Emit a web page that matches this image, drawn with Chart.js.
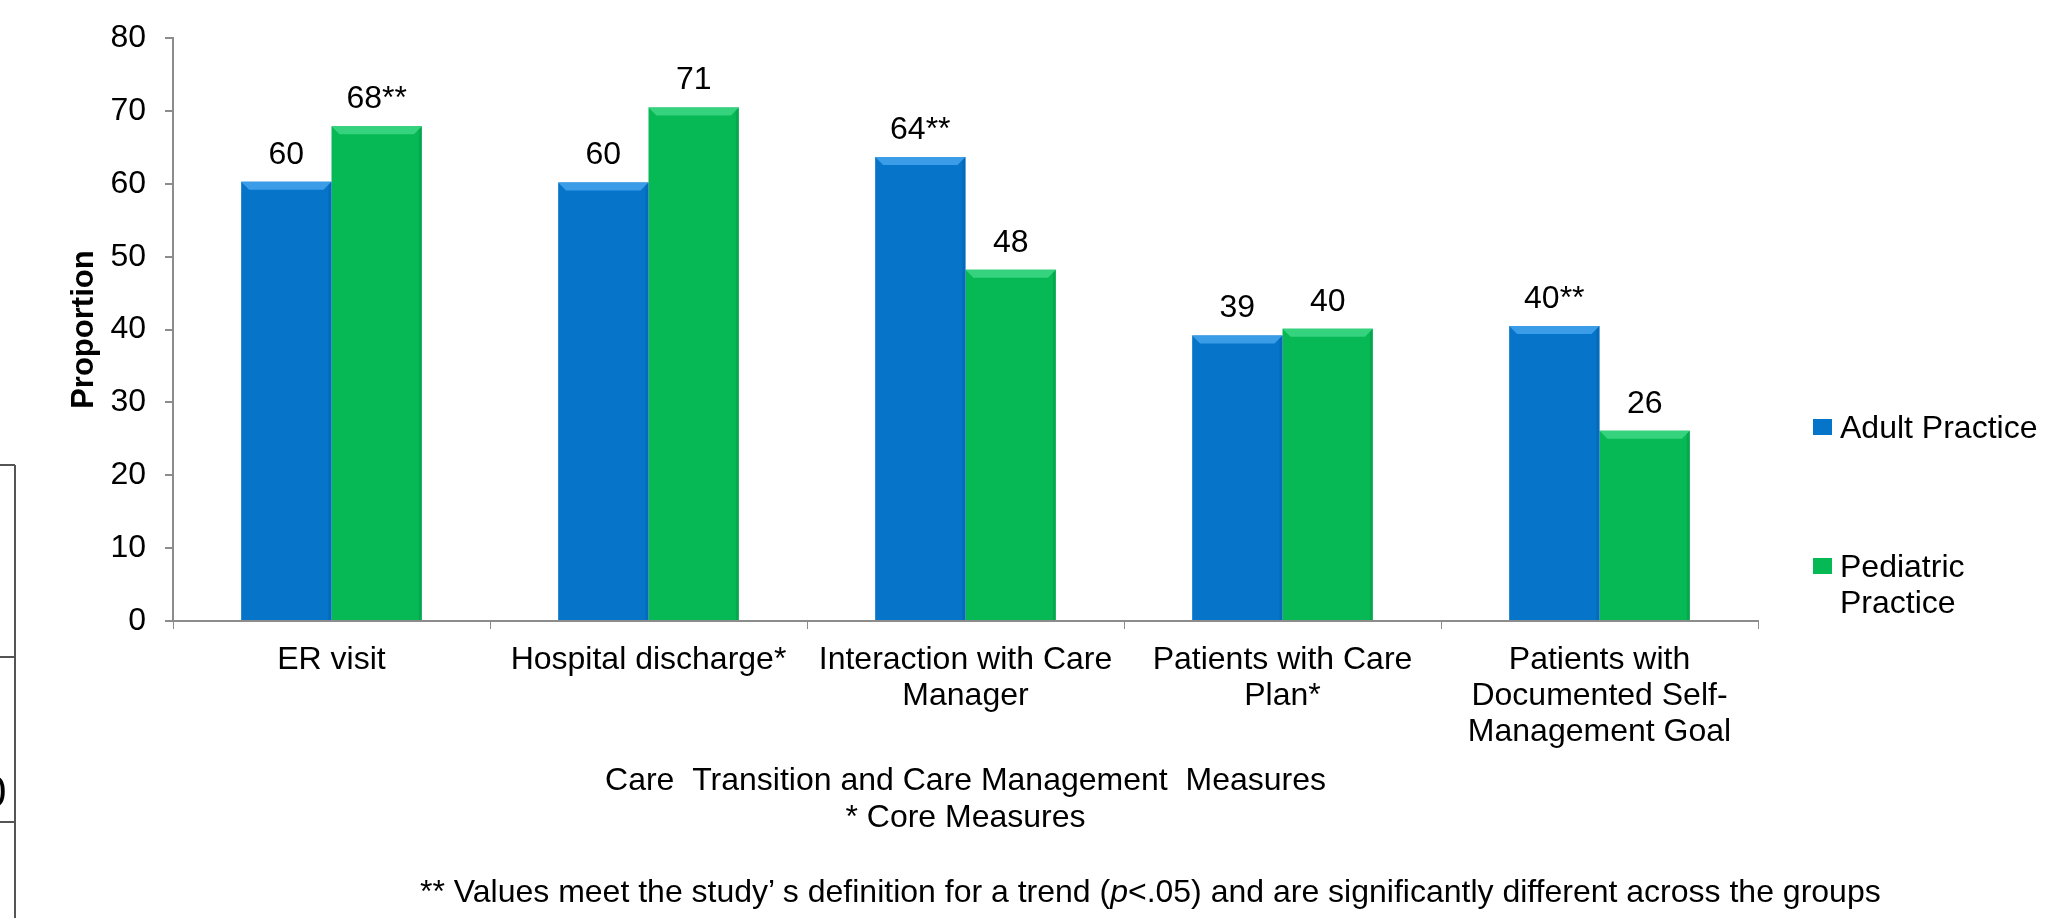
<!DOCTYPE html>
<html>
<head>
<meta charset="utf-8">
<script src="https://cdn.jsdelivr.net/npm/chart.js@4.4.1/dist/chart.umd.min.js"></script>
<style>
  html, body { margin: 0; padding: 0; background: #fff; }
  body { width: 2068px; height: 918px; position: relative; overflow: hidden;
         font-family: "Liberation Sans", Arial, sans-serif; color: #000; }
  #wrap { position: absolute; left: 0; top: 0; width: 2068px; height: 918px; }
  #legend { position: absolute; left: 1812px; top: 409px; width: 250px; font-size: 32px; line-height: 36px; }
  #legend .item { position: relative; padding-left: 28px; width: 210px; margin-bottom: 103px; }
  #legend .box { position: absolute; left: 1px; top: 10px; width: 19px; height: 16px; }
  #note { position: absolute; left: 420px; top: 873px; font-size: 32px; line-height: 37px; white-space: nowrap; }
  .edge { position: absolute; background: #555; }
</style>
</head>
<body>
<div id="wrap"><canvas id="chart"></canvas></div>
<div id="legend"></div>
<div id="note">** Values meet the study’ s definition for a trend (<i>p</i>&lt;.05) and are significantly different across the groups</div>

<!-- remains of the slide table cut off on the left -->
<div class="edge" style="left:14px; top:465px; width:2px; height:453px;"></div>
<div class="edge" style="left:0; top:464px; width:15px; height:2px;"></div>
<div class="edge" style="left:0; top:656px; width:15px; height:2px;"></div>
<div class="edge" style="left:0; top:821px; width:15px; height:2px;"></div>
<div style="position:absolute; left:0; top:768px; width:5px; height:50px; overflow:hidden;">
  <span style="position:absolute; left:-18px; top:0; font-size:44px; line-height:48px;">0</span>
</div>

<script>
// categories and values
const categories = [
  "ER visit",
  "Hospital discharge*",
  ["Interaction with Care", "Manager"],
  ["Patients with Care", "Plan*"],
  ["Patients with", "Documented Self-", "Management Goal"]
];
const adultValues = [60.3, 60.2, 63.7, 39.2, 40.5];
const pediatricValues = [67.9, 70.5, 48.2, 40.1, 26.1];
const adultLabels = ["60", "60", "64**", "39", "40**"];
const pediatricLabels = ["68**", "71", "48", "40", "26"];
const yTicks = [0, 10, 20, 30, 40, 50, 60, 70, 80];

const seriesNames = ["Adult Practice", "Pediatric Practice"];
const blue = "#0675c9", blueLight = "#3b9ce8", blueDark = "#04559a";
const green = "#07b955", greenLight = "#36d37e", greenDark = "#05893f";
const FONT = "'Liberation Sans', Arial, sans-serif";
const axisGray = "#8c8c8c";

// html legend
const legend = document.getElementById("legend");
[[seriesNames[0], blue], [seriesNames[1], green]].forEach(([name, col]) => {
  legend.insertAdjacentHTML("beforeend",
    `<div class="item"><span class="box" style="background:${col}"></span>${name}</div>`);
});

// bevel on top of bars + value labels
const barExtras = {
  id: "barExtras",
  afterDatasetsDraw(chart) {
    const ctx = chart.ctx;
    const lights = [blueLight, greenLight];
    const darks = [blueDark, greenDark];
    const texts = [adultLabels, pediatricLabels];
    chart.data.datasets.forEach((ds, di) => {
      chart.getDatasetMeta(di).data.forEach((bar, i) => {
        const l = bar.x - bar.width / 2, r = bar.x + bar.width / 2, t = bar.y, b = bar.base;
        const bv = 8;
        ctx.save();
        ctx.fillStyle = lights[di];
        ctx.beginPath();
        ctx.moveTo(l, t); ctx.lineTo(r, t); ctx.lineTo(r - bv, t + bv); ctx.lineTo(l + bv, t + bv);
        ctx.closePath(); ctx.fill();
        ctx.fillStyle = darks[di];
        ctx.globalAlpha = 0.35;
        ctx.beginPath();
        ctx.moveTo(r, t); ctx.lineTo(r, b); ctx.lineTo(r - 3, b); ctx.lineTo(r - 3, t + 3);
        ctx.closePath(); ctx.fill();
        ctx.restore();

        ctx.save();
        ctx.fillStyle = "#000";
        ctx.font = "32px " + FONT;
        ctx.textAlign = "center";
        ctx.textBaseline = "alphabetic";
        ctx.fillText(texts[di][i], bar.x, t - 18);
        ctx.restore();
      });
    });
  }
};

new Chart(document.getElementById("chart"), {
  type: "bar",
  data: {
    labels: categories,
    datasets: [
      { label: seriesNames[0], data: adultValues, backgroundColor: blue, borderWidth: 0 },
      { label: seriesNames[1], data: pediatricValues, backgroundColor: green, borderWidth: 0 }
    ]
  },
  options: {
    responsive: true,
    maintainAspectRatio: false,
    animation: false,
    layout: { padding: { left: 66, right: 310, top: 37, bottom: 81.5 } },
    datasets: { bar: { categoryPercentage: 0.57, barPercentage: 1.0 } },
    plugins: {
      legend: { display: false },
      tooltip: { enabled: false }
    },
    scales: {
      x: {
        grid: { offset: true, drawOnChartArea: false, drawTicks: true, tickLength: 8, color: axisGray },
        border: { display: true, color: axisGray, width: 2 },
        ticks: { color: "#000", font: { family: FONT, size: 32, lineHeight: 1.13 }, padding: 13,
                 maxRotation: 0, autoSkip: false },
        title: {
          display: true,
          text: ["Care  Transition and Care Management  Measures", "* Core Measures"],
          color: "#000",
          font: { family: FONT, size: 32, lineHeight: 1.16 },
          padding: 0
        },
        afterFit: s => { s.height = 215.5; }
      },
      y: {
        min: 0, max: 80,
        afterBuildTicks: s => { s.ticks = yTicks.map(v => ({ value: v })); },
        grid: { drawOnChartArea: false, drawTicks: true, tickLength: 8, color: axisGray, lineWidth: 2 },
        border: { display: true, color: axisGray, width: 2 },
        ticks: { color: "#000", font: { family: FONT, size: 32 }, padding: 19 },
        title: {
          display: true,
          text: "Proportion",
          color: "#000",
          font: { family: FONT, size: 31, weight: "bold", lineHeight: 1.2 },
          padding: 0
        },
        afterFit: s => { s.width = 107; }
      }
    }
  },
  plugins: [barExtras]
});
</script>
</body>
</html>
